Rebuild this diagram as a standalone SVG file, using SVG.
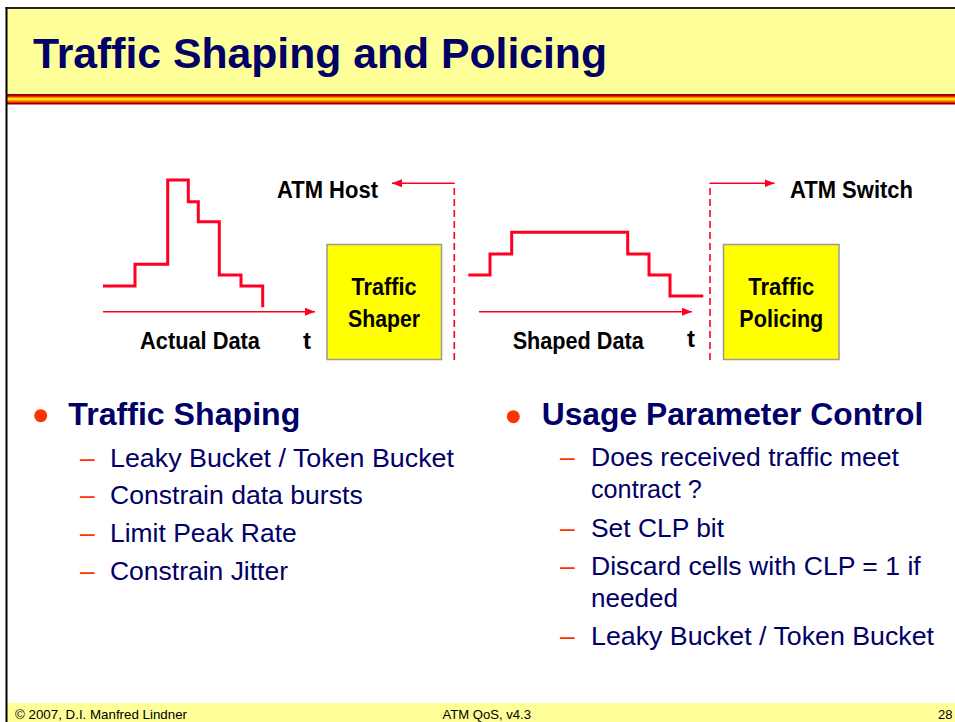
<svg xmlns="http://www.w3.org/2000/svg" width="955" height="722" viewBox="0 0 955 722">
  <defs>
    <linearGradient id="stripe" x1="0" y1="0" x2="0" y2="1">
      <stop offset="0" stop-color="#8b0000"/>
      <stop offset="0.14" stop-color="#8b0000"/>
      <stop offset="0.15" stop-color="#ff1a00"/>
      <stop offset="0.28" stop-color="#ff1a00"/>
      <stop offset="0.29" stop-color="#ff9900"/>
      <stop offset="0.42" stop-color="#ff9900"/>
      <stop offset="0.43" stop-color="#ffee00"/>
      <stop offset="0.57" stop-color="#ffee00"/>
      <stop offset="0.58" stop-color="#ff9900"/>
      <stop offset="0.71" stop-color="#ff9900"/>
      <stop offset="0.72" stop-color="#ff1a00"/>
      <stop offset="0.85" stop-color="#ff1a00"/>
      <stop offset="0.86" stop-color="#8b0000"/>
      <stop offset="1" stop-color="#8b0000"/>
    </linearGradient>
    <marker id="arrow" viewBox="0 0 10 8" refX="10" refY="4" markerWidth="10" markerHeight="8" markerUnits="userSpaceOnUse" orient="auto">
      <path d="M0,0 L10,4 L0,8 Z" fill="#ff0022"/>
    </marker>
  </defs>
  <style>
    .title { font-family: "Liberation Sans Narrow", "Liberation Sans", Arial, sans-serif; font-weight: bold; font-size: 43px; fill: #000066; }
    .lbl { font-family: "Liberation Sans Narrow", "Liberation Sans", Arial, sans-serif; font-weight: bold; font-size: 24px; fill: #000000; }
    .head { font-family: "Liberation Sans", Arial, sans-serif; font-weight: bold; font-size: 32px; fill: #000066; }
    .item { font-family: "Liberation Sans", Arial, sans-serif; font-size: 26.5px; fill: #000066; }
    .dash { font-family: "Liberation Sans", Arial, sans-serif; font-size: 26.5px; fill: #ff3300; }
    .foot { font-family: "Liberation Sans", Arial, sans-serif; font-size: 13px; fill: #000000; }
    .wave { fill: none; stroke: #ff0022; stroke-width: 3; stroke-linejoin: miter; }
    .axis { fill: none; stroke: #ff0022; stroke-width: 1.6; }
    .sep { fill: none; stroke: #ff0022; stroke-width: 1.6; stroke-dasharray: 7 4; }
    .box { fill: #ffff00; stroke: #999999; stroke-width: 1.5; }
  </style>

  <!-- page frame, header band and footer band -->
  <rect x="0" y="0" width="955" height="722" fill="#ffffff"/>
  <rect x="7" y="9" width="948" height="85" fill="#ffff99"/>
  <rect x="7" y="94" width="948" height="10.5" fill="url(#stripe)"/>
  <rect x="7" y="703" width="948" height="19" fill="#ffff99"/>
  <line x1="5.5" y1="8" x2="955" y2="8" stroke="#22221a" stroke-width="2"/>
  <line x1="6.5" y1="7" x2="6.5" y2="722" stroke="#000000" stroke-width="2"/>

  <text class="title" x="33" y="68" textLength="574" lengthAdjust="spacingAndGlyphs">Traffic Shaping and Policing</text>

  <!-- traffic curves -->
  <path class="wave" d="M103,286 H135 V264.3 H167.7 V180 H188.3 V201.7 H198.3 V221.7 H219.3 V275 H241 V286 H262.7 V307.3"/>
  <path class="wave" d="M468.3,275 H490 V254 H511.7 V232.3 H627.7 V254 H649 V275 H670 V296 H703.3"/>

  <!-- nodes -->
  <g id="shaper">
    <rect class="box" x="327" y="244.5" width="114.5" height="115"/>
    <text class="lbl" x="384" y="295" text-anchor="middle" textLength="65" lengthAdjust="spacingAndGlyphs">Traffic</text>
    <text class="lbl" x="384" y="327" text-anchor="middle" textLength="72" lengthAdjust="spacingAndGlyphs">Shaper</text>
  </g>
  <g id="policing">
    <rect class="box" x="723.5" y="244.5" width="115.5" height="115"/>
    <text class="lbl" x="781.3" y="295" text-anchor="middle" textLength="66" lengthAdjust="spacingAndGlyphs">Traffic</text>
    <text class="lbl" x="781.3" y="327" text-anchor="middle" textLength="84" lengthAdjust="spacingAndGlyphs">Policing</text>
  </g>
  <g id="atm-host">
    <text class="lbl" x="277" y="197.5" textLength="101" lengthAdjust="spacingAndGlyphs">ATM Host</text>
  </g>
  <g id="atm-switch">
    <text class="lbl" x="790" y="197.5" textLength="123" lengthAdjust="spacingAndGlyphs">ATM Switch</text>
  </g>
  <g id="axis-labels">
    <text class="lbl" x="140" y="349" textLength="120" lengthAdjust="spacingAndGlyphs">Actual Data</text>
    <text class="lbl" x="303" y="349">t</text>
    <text class="lbl" x="512.7" y="349" textLength="131" lengthAdjust="spacingAndGlyphs">Shaped Data</text>
    <text class="lbl" x="687" y="347">t</text>
  </g>

  <!-- connectors -->
  <g id="connectors">
    <line class="axis" x1="103" y1="311.7" x2="315" y2="311.7" marker-end="url(#arrow)"/>
    <line class="axis" x1="479" y1="311.7" x2="692" y2="311.7" marker-end="url(#arrow)"/>
    <path class="sep" d="M454.3,360 V183.3"/>
    <path class="axis" d="M454.3,183.3 H392" marker-end="url(#arrow)"/>
    <path class="sep" d="M710,360 V183.3"/>
    <path class="axis" d="M710,183.3 H774.5" marker-end="url(#arrow)"/>
  </g>

  <!-- bullet list: traffic shaping -->
  <circle cx="40.7" cy="415.7" r="6.5" fill="#ff3300"/>
  <text class="head" x="68.3" y="425" textLength="232" lengthAdjust="spacingAndGlyphs">Traffic Shaping</text>
  <text class="dash" x="80" y="466.7">–</text>
  <text class="item" x="110" y="466.7" textLength="344" lengthAdjust="spacingAndGlyphs">Leaky Bucket / Token Bucket</text>
  <text class="dash" x="80" y="504">–</text>
  <text class="item" x="110" y="504" textLength="252.7" lengthAdjust="spacingAndGlyphs">Constrain data bursts</text>
  <text class="dash" x="80" y="542.3">–</text>
  <text class="item" x="110" y="542.3" textLength="186.7" lengthAdjust="spacingAndGlyphs">Limit Peak Rate</text>
  <text class="dash" x="80" y="580">–</text>
  <text class="item" x="110" y="580" textLength="178" lengthAdjust="spacingAndGlyphs">Constrain Jitter</text>

  <!-- bullet list: usage parameter control -->
  <circle cx="513.3" cy="416.7" r="6.5" fill="#ff3300"/>
  <text class="head" x="541.7" y="425" textLength="381.6" lengthAdjust="spacingAndGlyphs">Usage Parameter Control</text>
  <text class="dash" x="560" y="466">–</text>
  <text class="item" x="591" y="466" textLength="308" lengthAdjust="spacingAndGlyphs">Does received traffic meet</text>
  <text class="item" x="591" y="498.3" textLength="110.7" lengthAdjust="spacingAndGlyphs">contract ?</text>
  <text class="dash" x="560" y="536.7">–</text>
  <text class="item" x="591" y="536.7" textLength="133" lengthAdjust="spacingAndGlyphs">Set CLP bit</text>
  <text class="dash" x="560" y="575">–</text>
  <text class="item" x="591" y="575" textLength="329.7" lengthAdjust="spacingAndGlyphs">Discard cells with CLP = 1 if</text>
  <text class="item" x="591" y="606.7" textLength="87" lengthAdjust="spacingAndGlyphs">needed</text>
  <text class="dash" x="560" y="645">–</text>
  <text class="item" x="591" y="645" textLength="343" lengthAdjust="spacingAndGlyphs">Leaky Bucket / Token Bucket</text>

  <!-- footer -->
  <text class="foot" x="15" y="718.5" textLength="172" lengthAdjust="spacingAndGlyphs">© 2007, D.I. Manfred Lindner</text>
  <text class="foot" x="442.5" y="718.5" textLength="88.5" lengthAdjust="spacingAndGlyphs">ATM QoS, v4.3</text>
  <text class="foot" x="938" y="719" font-size="14">28</text>
</svg>
